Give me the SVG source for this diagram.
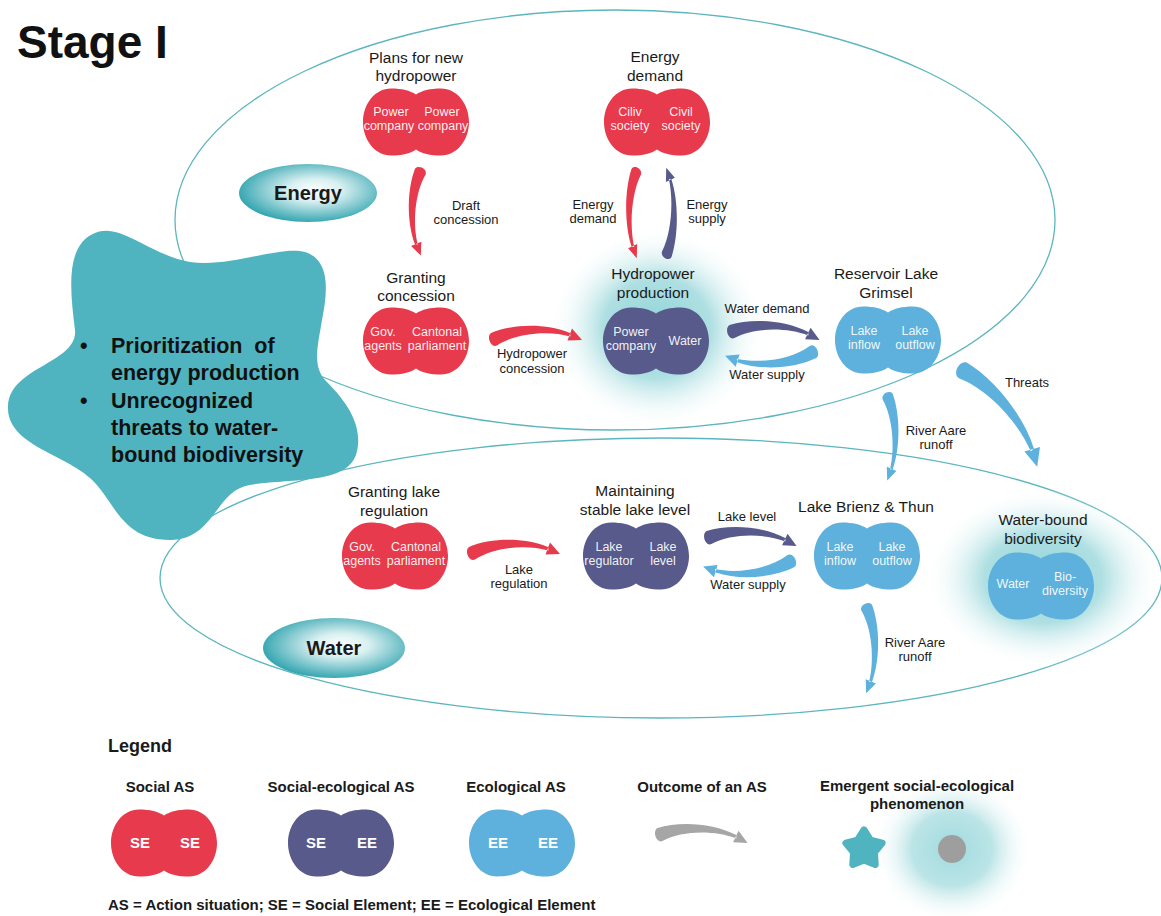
<svg xmlns="http://www.w3.org/2000/svg" width="1161" height="916" viewBox="0 0 1161 916">
<defs>
<style>
.t{font-family:"Liberation Sans",Arial,sans-serif;fill:#1a1a1a;text-anchor:middle}
.nt{font-size:15.5px}
.it{font-size:12.5px;fill:#ffffff;fill-opacity:0.93}
.cl{font-size:13px}
.lg{font-size:15px;font-weight:bold}
.red{fill:#e73a4c}
.nav{fill:#575a8b}
.lb{fill:#5db1dc}
.ring{fill:none;stroke:#5cb6be;stroke-width:1.3}
</style>
<path id="pn" d="M0,-27.5 C6,-31.5 14,-33.5 25,-33.5 C41,-33.5 53,-18 53,0 C53,18 41,33.5 25,33.5 C14,33.5 6,31.5 0,27.5 C-6,31.5 -14,33.5 -25,33.5 C-41,33.5 -53,18 -53,0 C-53,-18 -41,-33.5 -25,-33.5 C-14,-33.5 -6,-31.5 0,-27.5 Z"/>
<path id="arr" d="M1,-6 C22,-15 56,-16 80,-6 L80.5,-2.5 C58,-9 26,-6 7,6.5 C1,9.5 -4,-2.5 1,-6 Z M92,1 L82,-10.5 L77.5,1.5 Z"/>
<radialGradient id="glow" cx="50%" cy="50%" r="50%">
<stop offset="0" stop-color="#8fd4d8" stop-opacity="1"/>
<stop offset="0.5" stop-color="#a6dcdf" stop-opacity="0.9"/>
<stop offset="1" stop-color="#ffffff" stop-opacity="0"/>
</radialGradient>
<radialGradient id="lbl" cx="55%" cy="45%" r="55%">
<stop offset="0" stop-color="#ffffff"/>
<stop offset="0.35" stop-color="#d9f0f1"/>
<stop offset="1" stop-color="#3aa8b3"/>
</radialGradient>
</defs>
<rect width="1161" height="916" fill="#ffffff"/>

<g id="title"><text x="17" y="58" style="font-family:'Liberation Sans',Arial,sans-serif;font-size:46px;font-weight:bold;fill:#111">Stage I</text></g>

<g id="domains">
<ellipse class="ring" cx="615" cy="220" rx="440" ry="210"/>
<ellipse class="ring" cx="661" cy="578" rx="501" ry="140"/>
</g>

<g id="emergent-star">
<path fill="#50b4c0" d="M75,330 C70,290 65,245 95,233 C120,222 150,255 190,262 C230,268 280,245 305,252 C330,260 328,290 322,320 C318,345 312,365 325,380 C345,400 365,425 356,455 C345,485 290,478 250,485 C215,490 215,540 170,540 C120,540 115,500 90,478 C65,455 10,445 8,410 C6,380 40,370 60,355 C70,348 76,340 75,330 Z"/>
<g class="t" style="font-size:21.5px;font-weight:bold;text-anchor:start;fill:#111">
<text x="80" y="353">•</text>
<text x="111" y="353" xml:space="preserve">Prioritization  of</text>
<text x="111" y="380">energy production</text>
<text x="80" y="408">•</text>
<text x="111" y="408">Unrecognized</text>
<text x="111" y="435">threats to water-</text>
<text x="111" y="462">bound biodiversity</text>
</g>
</g>

<g id="label-energy">
<ellipse cx="308" cy="193" rx="69" ry="29" fill="url(#lbl)"/>
<text class="t" x="308" y="200" style="font-size:20px;font-weight:bold">Energy</text>
</g>
<g id="label-water">
<ellipse cx="334" cy="648" rx="71" ry="30" fill="url(#lbl)"/>
<text class="t" x="334" y="655" style="font-size:20px;font-weight:bold">Water</text>
</g>

<g id="glows">
<ellipse cx="657" cy="328" rx="108" ry="100" fill="url(#glow)"/>
<ellipse cx="1043" cy="578" rx="118" ry="90" fill="url(#glow)"/>
</g>

<g id="node-plans">
<text class="t nt" x="416" y="63">Plans for new</text>
<text class="t nt" x="416" y="81">hydropower</text>
<use href="#pn" class="red" transform="translate(416,122)"/>
<text class="t it" x="391" y="116">Power</text><text class="t it" x="389" y="130">company</text>
<text class="t it" x="442" y="116">Power</text><text class="t it" x="443" y="130">company</text>
</g>

<g id="node-energy-demand">
<text class="t nt" x="655" y="62">Energy</text>
<text class="t nt" x="655" y="81">demand</text>
<use href="#pn" class="red" transform="translate(657,122)"/>
<text class="t it" x="630" y="116">Ciliv</text><text class="t it" x="630" y="130">society</text>
<text class="t it" x="681" y="116">Civil</text><text class="t it" x="681" y="130">society</text>
</g>

<g id="node-granting-concession">
<text class="t nt" x="416" y="283">Granting</text>
<text class="t nt" x="416" y="301">concession</text>
<use href="#pn" class="red" transform="translate(416,341)"/>
<text class="t it" x="383" y="336">Gov.</text><text class="t it" x="383" y="350">agents</text>
<text class="t it" x="437" y="336">Cantonal</text><text class="t it" x="437" y="350">parliament</text>
</g>

<g id="node-hydropower">
<text class="t nt" x="653" y="279">Hydropower</text>
<text class="t nt" x="653" y="298">production</text>
<use href="#pn" class="nav" transform="translate(656,341)"/>
<text class="t it" x="631" y="336">Power</text><text class="t it" x="631" y="350">company</text>
<text class="t it" x="685" y="345">Water</text>
</g>

<g id="node-grimsel">
<text class="t nt" x="886" y="279">Reservoir Lake</text>
<text class="t nt" x="886" y="298">Grimsel</text>
<use href="#pn" class="lb" transform="translate(888,340)"/>
<text class="t it" x="864" y="335">Lake</text><text class="t it" x="864" y="349">inflow</text>
<text class="t it" x="915" y="335">Lake</text><text class="t it" x="915" y="349">outflow</text>
</g>

<g id="node-granting-lake">
<text class="t nt" x="394" y="497">Granting lake</text>
<text class="t nt" x="394" y="516">regulation</text>
<use href="#pn" class="red" transform="translate(395,556)"/>
<text class="t it" x="362" y="551">Gov.</text><text class="t it" x="362" y="565">agents</text>
<text class="t it" x="416" y="551">Cantonal</text><text class="t it" x="416" y="565">parliament</text>
</g>

<g id="node-stable-level">
<text class="t nt" x="635" y="496">Maintaining</text>
<text class="t nt" x="635" y="515">stable lake level</text>
<use href="#pn" class="nav" transform="translate(636,556)"/>
<text class="t it" x="609" y="551">Lake</text><text class="t it" x="609" y="565">regulator</text>
<text class="t it" x="663" y="551">Lake</text><text class="t it" x="663" y="565">level</text>
</g>

<g id="node-brienz-thun">
<text class="t nt" x="866" y="512">Lake Brienz &amp; Thun</text>
<use href="#pn" class="lb" transform="translate(867,556)"/>
<text class="t it" x="840" y="551">Lake</text><text class="t it" x="840" y="565">inflow</text>
<text class="t it" x="892" y="551">Lake</text><text class="t it" x="892" y="565">outflow</text>
</g>

<g id="node-biodiversity">
<text class="t nt" x="1043" y="525">Water-bound</text>
<text class="t nt" x="1043" y="544">biodiversity</text>
<use href="#pn" class="lb" transform="translate(1041,586)"/>
<text class="t it" x="1013" y="588">Water</text>
<text class="t it" x="1065" y="581">Bio-</text><text class="t it" x="1065" y="595">diversity</text>
</g>

<g id="connectors">
<use href="#arr" class="red" transform="translate(420,168) rotate(90) scale(0.95,-0.85)"/>
<use href="#arr" class="red" transform="translate(636,168) rotate(90) scale(0.98,-0.75)"/>
<use href="#arr" class="nav" transform="translate(667,258) rotate(-90) scale(0.98,-0.75)"/>
<use href="#arr" class="red" transform="translate(490,339)"/>
<use href="#arr" class="nav" transform="translate(728,331) rotate(5)"/>
<use href="#arr" class="lb" transform="translate(817,352) rotate(177)"/>
<use href="#arr" class="lb" transform="translate(888,393) rotate(90) scale(0.95,0.8)"/>
<use href="#arr" class="lb" transform="translate(960,366) rotate(52) scale(1.38,1.25)"/>
<use href="#arr" class="red" transform="translate(468,553)"/>
<use href="#arr" class="nav" transform="translate(705,537) rotate(5)"/>
<use href="#arr" class="lb" transform="translate(795,561) rotate(176)"/>
<use href="#arr" class="lb" transform="translate(867,604) rotate(90) scale(0.97,0.85)"/>
<g class="t cl">
<text x="466" y="210">Draft</text><text x="466" y="224">concession</text>
<text x="593" y="209">Energy</text><text x="593" y="223">demand</text>
<text x="707" y="209">Energy</text><text x="707" y="223">supply</text>
<text x="532" y="358">Hydropower</text><text x="532" y="373">concession</text>
<text x="767" y="313">Water demand</text>
<text x="767" y="379">Water supply</text>
<text x="1027" y="387">Threats</text>
<text x="936" y="435">River Aare</text><text x="936" y="449">runoff</text>
<text x="519" y="574">Lake</text><text x="519" y="588">regulation</text>
<text x="747" y="521">Lake level</text>
<text x="748" y="589">Water supply</text>
<text x="915" y="647">River Aare</text><text x="915" y="661">runoff</text>
</g>
</g>

<g id="legend">
<text class="t" x="108" y="752" style="font-size:18px;font-weight:bold;text-anchor:start">Legend</text>
<g id="legend-social">
<text class="t lg" x="160" y="792">Social AS</text>
<use href="#pn" class="red" transform="translate(164,843)"/>
<text class="t lg" x="140" y="848" style="fill:#fff">SE</text><text class="t lg" x="190" y="848" style="fill:#fff">SE</text>
</g>
<g id="legend-socio-eco">
<text class="t lg" x="341" y="792">Social-ecological AS</text>
<use href="#pn" class="nav" transform="translate(341,843)"/>
<text class="t lg" x="316" y="848" style="fill:#fff">SE</text><text class="t lg" x="367" y="848" style="fill:#fff">EE</text>
</g>
<g id="legend-eco">
<text class="t lg" x="516" y="792">Ecological AS</text>
<use href="#pn" class="lb" transform="translate(522,843)"/>
<text class="t lg" x="498" y="848" style="fill:#fff">EE</text><text class="t lg" x="548" y="848" style="fill:#fff">EE</text>
</g>
<g id="legend-outcome">
<text class="t lg" x="702" y="792">Outcome of an AS</text>
<use href="#arr" fill="#a6a6a6" transform="translate(656,834) rotate(5)"/>
</g>
<g id="legend-emergent">
<ellipse cx="952" cy="849" rx="80" ry="74" fill="url(#glow)" opacity="0.85"/>
<text class="t lg" x="917" y="791">Emergent social-ecological</text>
<text class="t lg" x="917" y="809">phenomenon</text>
<polygon points="864,830 870.5,840.1 882.1,843.1 874.5,852.4 875.2,864.4 864,860 852.8,864.4 853.5,852.4 845.9,843.1 857.5,840.1" fill="#50b4c0" stroke="#50b4c0" stroke-width="7" stroke-linejoin="round"/>
<circle cx="952" cy="849" r="14" fill="#9e9e9e"/>
</g>
<text class="t" x="108" y="910" style="font-size:15px;font-weight:bold;text-anchor:start">AS = Action situation; SE = Social Element; EE = Ecological Element</text>
</g>
</svg>
